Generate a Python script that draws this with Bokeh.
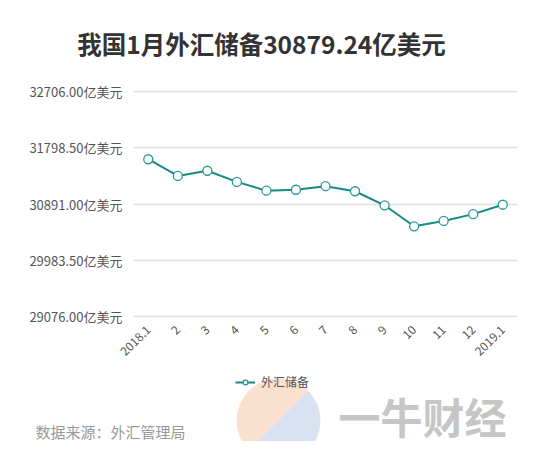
import numpy as np
from bokeh.plotting import figure
from bokeh.layouts import column
from bokeh.models import (ColumnDataSource, FixedTicker, Legend, LegendItem, Range1d)
from bokeh.core.properties import value
from bokeh.embed import file_html
from bokeh.resources import INLINE

months = ["2018.1", "2", "3", "4", "5", "6", "7", "8", "9", "10", "11", "12", "2019.1"]
reserves = [31614.57, 31344.82, 31428.47, 31248.52, 31106.26, 31121.29, 31179.48,
            31097.16, 30870.25, 30530.61, 30616.97, 30727.12, 30879.24]
y_ticks = [29076.00, 29983.50, 30891.00, 31798.50, 32706.00]
y_tick_labels = ["29076.00亿美元", "29983.50亿美元", "30891.00亿美元", "31798.50亿美元", "32706.00亿美元"]

title_text = ["我国1月外汇储备30879.24亿美元"]
series_name = "外汇储备"
source_text = ["数据来源：外汇管理局"]
brand_text = ["一牛财经"]

FONT = "Noto Sans CJK SC"
W = 534
H_HEAD, H_MAIN, H_FOOT = 70, 295, 76
LINE_COLOR, MARK_LINE = "#148a85", "#2a9a95"


def blank(height):
    fig = figure(width=W, height=height, x_range=Range1d(0, W), y_range=Range1d(0, height),
                 output_backend="svg", toolbar_location=None, x_axis_type=None, y_axis_type=None,
                 min_border_left=0, min_border_right=0, min_border_top=0, min_border_bottom=0)
    fig.outline_line_color = None
    fig.grid.grid_line_color = None
    fig.frame_align = False
    return fig


# ---------------- header: title ----------------
h = blank(H_HEAD)
h.text(x=[261], y=[27], text=title_text, text_font=value(FONT), text_font_size="24.5px",
       text_font_style="bold", text_color="#333333", text_align="center", text_baseline="middle")

# ---------------- main chart ----------------
src = ColumnDataSource(dict(m=months, v=reserves))
p = figure(width=W, height=H_MAIN, x_range=months, y_range=(29056, 32726),
           output_backend="svg", toolbar_location=None,
           min_border_left=133, min_border_right=17, min_border_top=20, min_border_bottom=48)
p.outline_line_color = None
p.frame_align = False

p.line("m", "v", source=src, line_color=LINE_COLOR, line_width=2)
p.scatter("m", "v", source=src, size=9, fill_color="white",
          line_color=MARK_LINE, line_width=1.3)

p.yaxis.ticker = FixedTicker(ticks=y_ticks)
p.yaxis.major_label_overrides = {t: l for t, l in zip(y_ticks, y_tick_labels)}
p.yaxis.axis_line_color = None
p.yaxis.major_tick_line_color = None
p.yaxis.minor_tick_line_color = None
p.yaxis.major_label_text_font = FONT
p.yaxis.major_label_text_font_size = "13px"
p.yaxis.major_label_text_color = "#555555"
p.yaxis.major_label_standoff = 5

p.xaxis.axis_line_color = None
p.xaxis.major_tick_line_color = None
p.xaxis.minor_tick_line_color = None
p.xaxis.major_label_orientation = np.pi / 4
p.xaxis.major_label_text_font = FONT
p.xaxis.major_label_text_font_size = "12px"
p.xaxis.major_label_text_color = "#555555"
p.xaxis.major_label_standoff = 4

p.xgrid.grid_line_color = None
p.ygrid.grid_line_color = "#dedede"
p.ygrid.grid_line_width = 1.3
p.ygrid.ticker = FixedTicker(ticks=y_ticks)

# ---------------- footer: legend, source, watermark ----------------
f = blank(H_FOOT)

# watermark logo
f.wedge(x=[278], y=[21], radius=42, start_angle=[np.pi * 0.25], end_angle=[np.pi * 1.25],
        fill_color="#f6c9a8", fill_alpha=0.55, line_color=None)
f.wedge(x=[278], y=[21], radius=42, start_angle=[np.pi * 1.25], end_angle=[np.pi * 2.25],
        fill_color="#b9cbe9", fill_alpha=0.55, line_color=None)
f.text(x=[338], y=[26], text=brand_text, text_font=value(FONT), text_font_size="42px",
       text_font_style="bold", text_color="#c6c6c6", text_align="left", text_baseline="middle")
f.text(x=[35], y=[10], text=source_text, text_font=value(FONT), text_font_size="15px",
       text_color="#999999", text_align="left", text_baseline="middle")

# legend proxies (one point placed outside the footer's visible range)
proxy = ColumnDataSource(dict(x=[-500], y=[-500]))
lg_line = f.line("x", "y", source=proxy, line_color=LINE_COLOR, line_width=2)
lg_mark = f.scatter("x", "y", source=proxy, size=9, fill_color="white",
                    line_color=MARK_LINE, line_width=1.3)
legend = Legend(items=[LegendItem(label=series_name, renderers=[lg_line, lg_mark])],
                location=(235, 51), orientation="horizontal",
                label_text_font=FONT, label_text_font_size="12px",
                label_text_color="#555555", border_line_color=None,
                background_fill_alpha=0, glyph_width=20, glyph_height=12,
                label_standoff=6, padding=0, margin=0)
f.add_layout(legend, "center")

layout = column(h, p, f, spacing=0)
open("out.html", "w").write(file_html(layout, INLINE))
